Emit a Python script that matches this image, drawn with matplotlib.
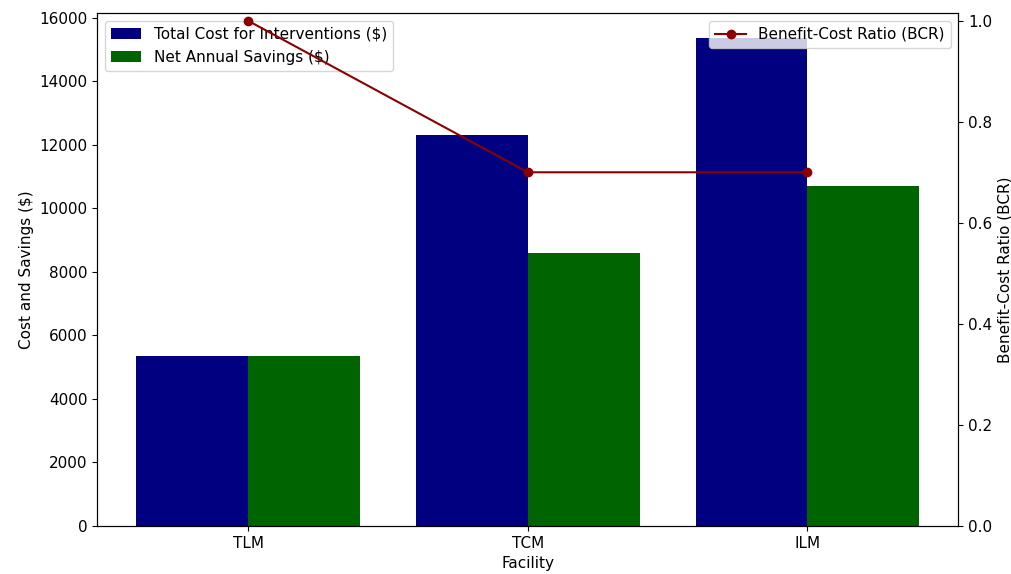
import matplotlib
matplotlib.use("Agg")
import matplotlib.pyplot as plt
import numpy as np

facilities = ["TLM", "TCM", "ILM"]
total_cost = [5350, 12300, 15380]
net_savings = [5350, 8600, 10700]
bcr = [1.0, 0.7, 0.7]

plt.rcParams["font.size"] = 11

fig, ax1 = plt.subplots(figsize=(10.12, 5.74), dpi=100)
fig.subplots_adjust(left=0.096, right=0.947, bottom=0.084, top=0.977)

x = np.arange(len(facilities))
w = 0.4
ax1.bar(x - w/2, total_cost, w, color="navy", label="Total Cost for Interventions ($)")
ax1.bar(x + w/2, net_savings, w, color="darkgreen", label="Net Annual Savings ($)")
ax1.set_xlabel("Facility")
ax1.set_ylabel("Cost and Savings ($)")
ax1.set_xticks(x)
ax1.set_xticklabels(facilities)
ax1.legend(loc="upper left")

ax2 = ax1.twinx()
ax2.plot(x, bcr, color="darkred", marker="o", label="Benefit-Cost Ratio (BCR)")
ax2.set_ylabel("Benefit-Cost Ratio (BCR)")
ax2.set_ylim(bottom=0)
ax2.legend(loc="upper right")

fig.savefig("out.png", dpi=100)
